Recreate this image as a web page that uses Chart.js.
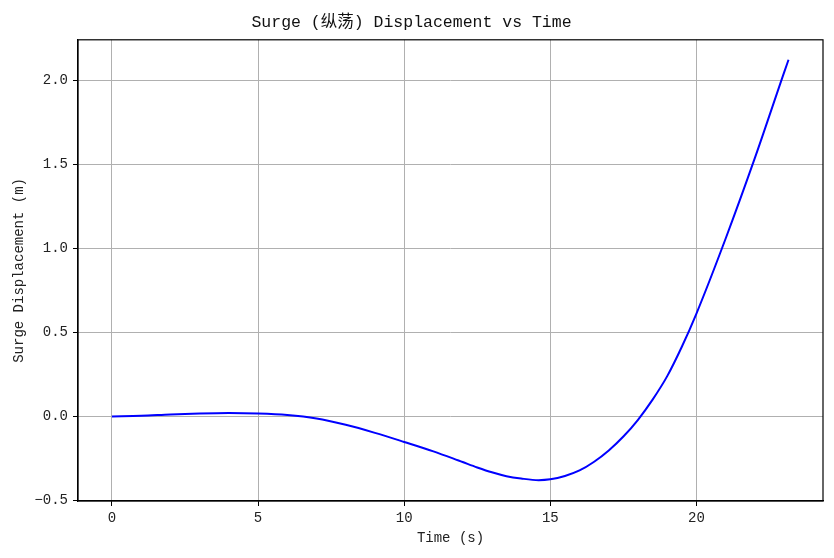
<!DOCTYPE html>
<html>
<head>
<meta charset="utf-8">
<script src="https://cdn.jsdelivr.net/npm/chart.js@4.4.1/dist/chart.umd.min.js"></script>
<style>
  html, body { margin: 0; padding: 0; background: #fff; }
  #wrap { width: 834px; height: 558px; }
</style>
</head>
<body>
<div id="wrap"><canvas id="surgeChart"></canvas></div>
<script>
// Values
const timeSec = [0, 1, 2, 3, 4, 5, 6, 7, 8, 9, 10, 11, 12, 12.5, 13, 13.5, 14, 14.6, 15, 15.5, 16, 16.5, 17, 17.5, 18, 18.5, 19, 19.5, 20, 21, 22, 23, 23.15];
const surgeDisp = [0.000, 0.004, 0.012, 0.018, 0.021, 0.018, 0.009, -0.012, -0.050, -0.098, -0.152, -0.208, -0.272, -0.304, -0.333, -0.356, -0.370, -0.380, -0.375, -0.355, -0.322, -0.270, -0.203, -0.120, -0.020, 0.100, 0.240, 0.415, 0.613, 1.060, 1.540, 2.050, 2.125];
const xTicks = [0, 5, 10, 15, 20];
const yTicks = [-0.5, 0.0, 0.5, 1.0, 1.5, 2.0];

const FONT = "'Liberation Mono', 'DejaVu Sans Mono', 'Noto Sans CJK SC', monospace";

// Black frame round the plot area, like the matplotlib spines
const framePlugin = {
  id: 'frame',
  afterDraw(chart) {
    const a = chart.chartArea;
    const ctx = chart.ctx;
    ctx.save();
    ctx.strokeStyle = '#000';
    ctx.lineWidth = 1.2;
    ctx.strokeRect(a.left, a.top, a.right - a.left, a.bottom - a.top);
    ctx.restore();
  }
};

function renderSurgeChart() {
  const canvas = document.getElementById('surgeChart');
  const points = timeSec.map((t, i) => ({ x: t, y: surgeDisp[i] }));

  new Chart(canvas.getContext('2d'), {
    type: 'line',
    data: {
      datasets: [{
        data: points,
        borderColor: '#0000ff',
        borderWidth: 2,
        pointRadius: 0,
        fill: false,
        cubicInterpolationMode: 'monotone'
      }]
    },
    options: {
      responsive: true,
      maintainAspectRatio: false,
      animation: false,
      layout: { padding: { left: 0, right: 11, top: 0, bottom: 0 } },
      plugins: {
        legend: { display: false },
        tooltip: { enabled: false },
        title: {
          display: true,
          text: 'Surge (纵荡) Displacement vs Time',
          color: '#111',
          font: { family: FONT, size: 16.5, weight: 'normal' },
          padding: { top: 13, bottom: 7 }
        }
      },
      scales: {
        x: {
          type: 'linear',
          min: -1.16,
          max: 24.33,
          afterBuildTicks(scale) { scale.ticks = xTicks.map(v => ({ value: v })); },
          afterFit(scale) { scale.height = 57; },
          ticks: {
            color: '#222',
            font: { family: FONT, size: 14 },
            padding: 4,
            maxRotation: 0,
            callback: v => String(v)
          },
          grid: { color: '#b0b0b0', lineWidth: 1, tickColor: '#000', tickLength: 5 },
          border: { display: true, color: '#000', width: 1.2 },
          title: {
            display: true,
            text: 'Time (s)',
            color: '#222',
            font: { family: FONT, size: 14 },
            padding: { top: 4, bottom: 11 }
          }
        },
        y: {
          type: 'linear',
          min: -0.504,
          max: 2.244,
          afterBuildTicks(scale) { scale.ticks = yTicks.map(v => ({ value: v })); },
          afterFit(scale) { scale.width = 78; },
          ticks: {
            color: '#222',
            font: { family: FONT, size: 14 },
            padding: 5,
            callback: v => v.toFixed(1).replace('-', '\u2212')
          },
          grid: { color: '#b0b0b0', lineWidth: 1, tickColor: '#000', tickLength: 5 },
          border: { display: true, color: '#000', width: 1.2 },
          title: {
            display: true,
            text: 'Surge Displacement (m)',
            color: '#222',
            font: { family: FONT, size: 14 },
            padding: { top: 11, bottom: 4 }
          }
        }
      }
    },
    plugins: [framePlugin]
  });
}

document.addEventListener('DOMContentLoaded', renderSurgeChart);
</script>
</body>
</html>
